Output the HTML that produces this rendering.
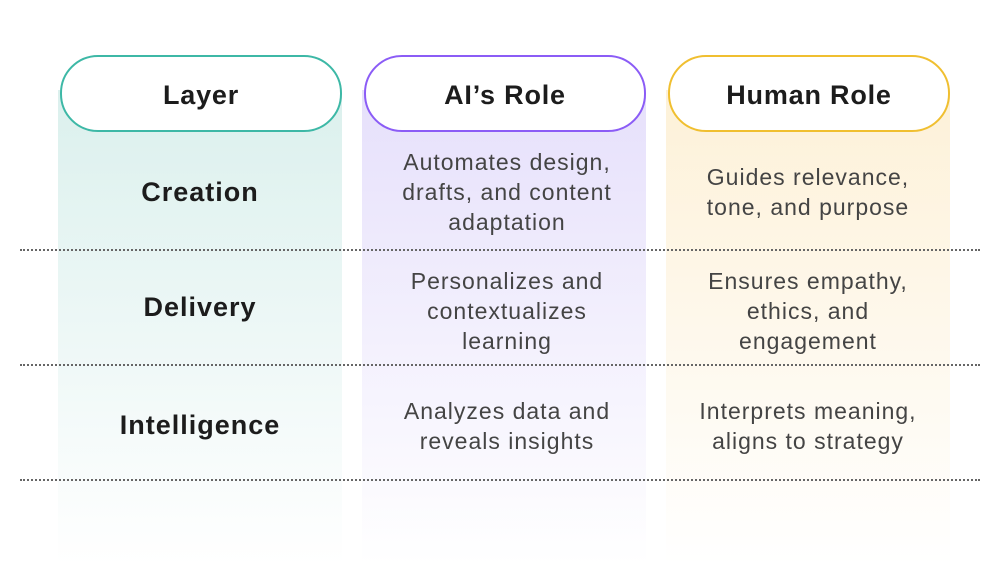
<!DOCTYPE html>
<html><head><style>
body{margin:0;width:1000px;height:565px;background:#fff;position:relative;overflow:hidden;font-family:"Liberation Sans",sans-serif;}
.col{position:absolute;top:90px;height:475px;width:284px;}
.c1{left:58px;background:linear-gradient(#dbf0ed,#fff);}
.c2{left:362px;background:linear-gradient(#e6e0fb,#fff);}
.c3{left:666px;background:linear-gradient(#fdf1d8,#fff);}
.pill{position:absolute;top:55px;width:278px;height:73px;border-radius:38px;background:#fff;display:flex;align-items:center;justify-content:center;font-weight:bold;font-size:27px;letter-spacing:0.8px;color:#1c1c1c;padding-top:3px;box-sizing:content-box;height:70px;}
.dot{position:absolute;left:20px;width:960px;border-top:2px dotted #666;}
.t{position:absolute;width:284px;text-align:center;font-size:23px;letter-spacing:1px;line-height:30px;color:#444;}
.b{font-weight:bold;font-size:27px;letter-spacing:1px;color:#1c1c1c;}
</style></head><body>
<div class="col c1"></div><div class="col c2"></div><div class="col c3"></div>
<div class="pill" style="left:60px;border:2px solid #3db8a6;">Layer</div>
<div class="pill" style="left:364px;border:2px solid #8b5cf6;">AI’s Role</div>
<div class="pill" style="left:668px;border:2px solid #f0bf30;">Human Role</div>
<div class="dot" style="top:249px"></div>
<div class="dot" style="top:364px"></div>
<div class="dot" style="top:479px"></div>
<div class="t b" style="left:58px;top:177px">Creation</div>
<div class="t" style="left:365px;top:147px">Automates design,<br>drafts, and content<br>adaptation</div>
<div class="t" style="left:666px;top:162px">Guides relevance,<br>tone, and purpose</div>
<div class="t b" style="left:58px;top:292px">Delivery</div>
<div class="t" style="left:365px;top:266px">Personalizes and<br>contextualizes<br>learning</div>
<div class="t" style="left:666px;top:266px">Ensures empathy,<br>ethics, and<br>engagement</div>
<div class="t b" style="left:58px;top:410px">Intelligence</div>
<div class="t" style="left:365px;top:396px">Analyzes data and<br>reveals insights</div>
<div class="t" style="left:666px;top:396px">Interprets meaning,<br>aligns to strategy</div>
</body></html>
